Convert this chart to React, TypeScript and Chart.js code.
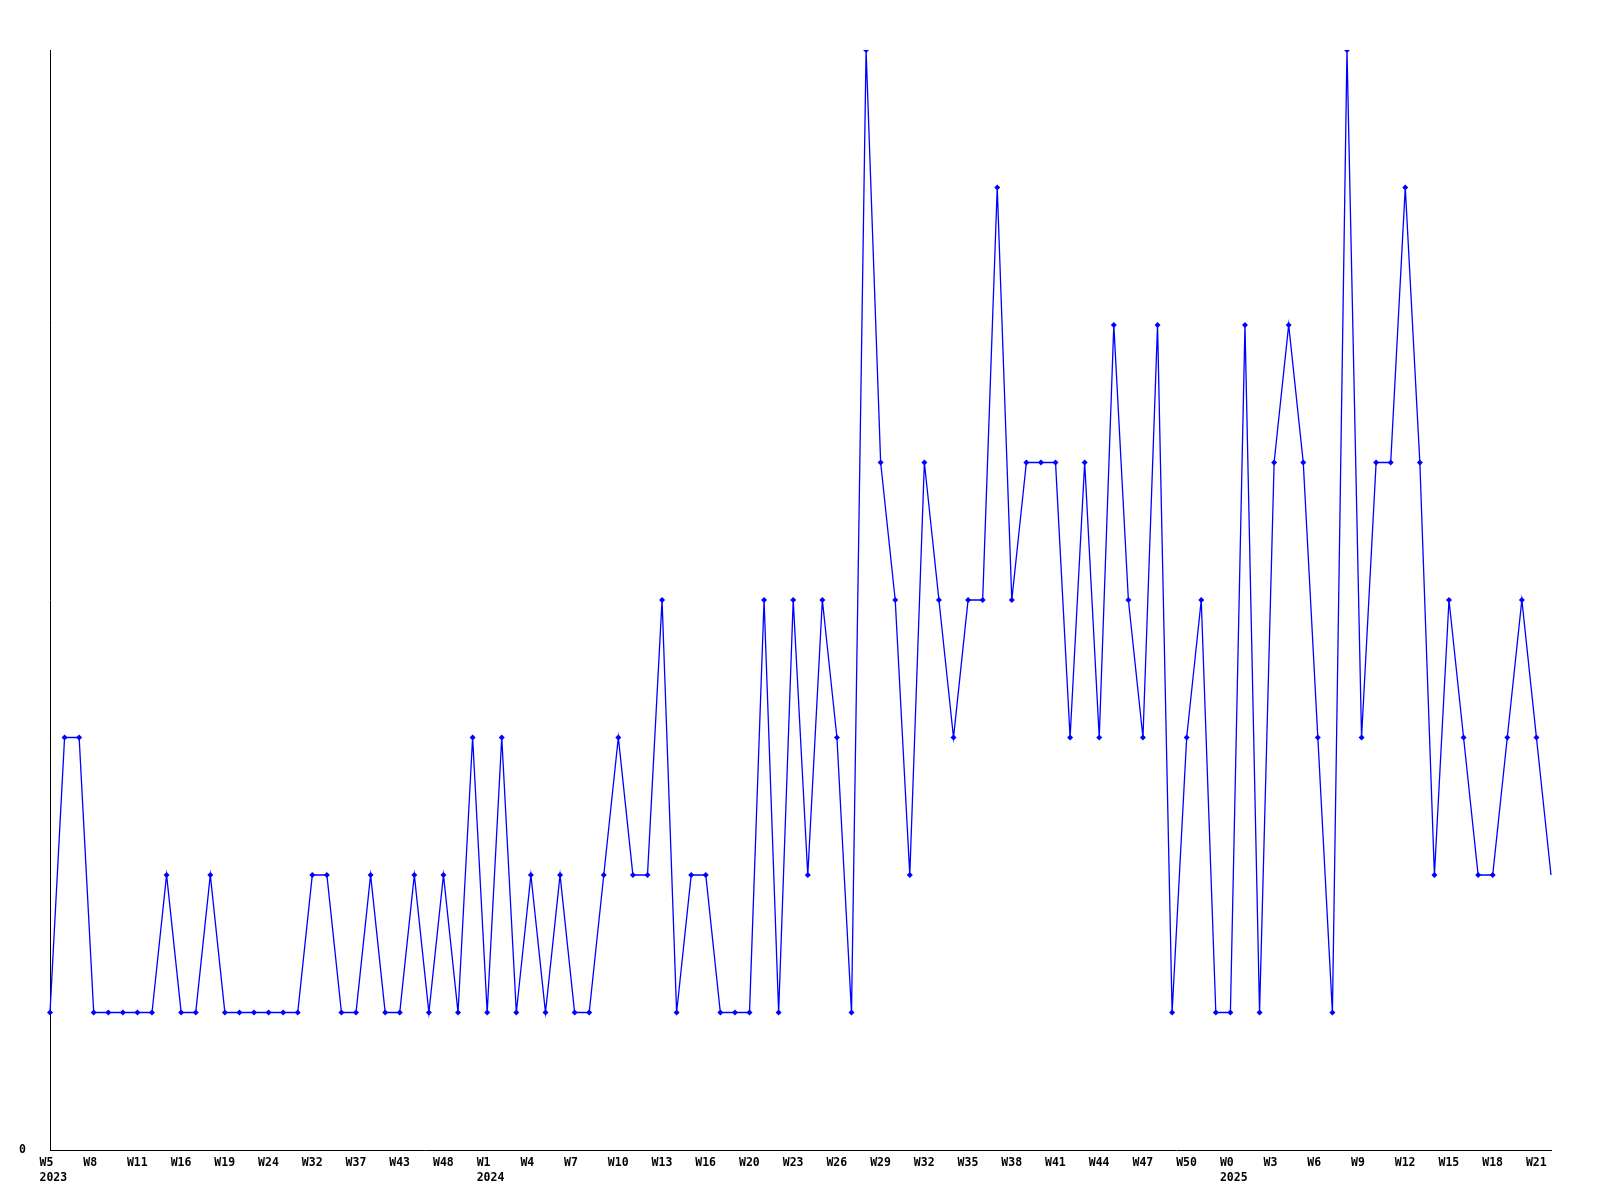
import { useEffect, useRef } from 'react';
import { Chart, registerables } from 'chart.js';

Chart.register(...registerables);

// Weekly counts (one value per reported week, in order)
const counts: number[] = [
  1, 3, 3, 1, 1, 1, 1, 1, 2, 1,
  1, 2, 1, 1, 1, 1, 1, 1, 2, 2,
  1, 1, 2, 1, 1, 2, 1, 2, 1, 3,
  1, 3, 1, 2, 1, 2, 1, 1, 2, 3,
  2, 2, 4, 1, 2, 2, 1, 1, 1, 4,
  1, 4, 2, 4, 3, 1, 8, 5, 4, 2,
  5, 4, 3, 4, 4, 7, 4, 5, 5, 5,
  3, 5, 3, 6, 4, 3, 6, 1, 3, 4,
  1, 1, 6, 1, 5, 6, 5, 3, 1, 8,
  3, 5, 5, 7, 5, 2, 4, 3, 2, 2,
  3, 4, 3, 2,
];

// Tick labels shown on every third week
const weekTicks: string[] = [
  'W5', 'W8', 'W11', 'W16', 'W19', 'W24', 'W32', 'W37', 'W43', 'W48',
  'W1', 'W4', 'W7', 'W10', 'W13', 'W16', 'W20', 'W23', 'W26', 'W29',
  'W32', 'W35', 'W38', 'W41', 'W44', 'W47', 'W50',
  'W0', 'W3', 'W6', 'W9', 'W12', 'W15', 'W18', 'W21',
];
const tickEvery = 3;

// Year labels and the week tick each one sits under
const years: string[] = ['2023', '2024', '2025'];
const yearTickIndex: number[] = [0, 10, 27];

const yMin = 0;
const yMax = 8;

const FONT = { family: "'DejaVu Sans Mono', monospace", size: 11.5, weight: 'bold' as const, lineHeight: 1.35 };

export default function App() {
  const ref = useRef<HTMLCanvasElement | null>(null);

  useEffect(() => {
    if (!ref.current) return;
    const last = counts.length - 1;
    const chart = new Chart(ref.current, {
      type: 'line',
      data: {
        labels: counts.map((_, i) => String(i)),
        datasets: [
          {
            data: counts,
            borderColor: '#0000ff',
            backgroundColor: '#0000ff',
            borderWidth: 1.3,
            tension: 0,
            fill: false,
            pointStyle: 'rectRot',
            pointRadius: (ctx: any) => (ctx.dataIndex === last ? 0 : 3),
            pointBorderWidth: 0,
            pointBackgroundColor: '#0000ff',
          },
        ],
      },
      options: {
        responsive: false,
        animation: false,
        events: [],
        layout: { padding: { top: 50, right: 49, bottom: 0, left: 0 } },
        plugins: {
          legend: { display: false },
          title: { display: false },
          tooltip: { enabled: false },
        },
        scales: {
          x: {
            type: 'category',
            offset: false,
            grid: { display: false },
            border: { display: true, color: '#000', width: 1 },
            afterFit: (scale: any) => {
              scale.height = 50;
            },
            ticks: {
              autoSkip: false,
              maxRotation: 0,
              minRotation: 0,
              align: 'start',
              labelOffset: -10.5,
              padding: -3,
              color: '#000',
              font: FONT,
              callback: (_v: any, index: number) => {
                if (index % tickEvery !== 0) return null;
                const k = index / tickEvery;
                const w = weekTicks[k];
                if (!w) return null;
                const yi = yearTickIndex.indexOf(k);
                return yi >= 0 ? [w, years[yi]] : w;
              },
            },
          },
          y: {
            min: yMin,
            max: yMax,
            grid: { display: false },
            border: { display: true, color: '#000', width: 1 },
            afterFit: (scale: any) => {
              scale.width = 50;
            },
            ticks: {
              stepSize: 1,
              padding: 16,
              color: '#000',
              font: FONT,
              callback: (v: any) => (Number(v) === 0 ? '0' : null),
            },
          },
        },
      },
    } as any);
    return () => chart.destroy();
  }, []);

  return (
    <div style={{ position: 'absolute', left: 0, top: 0, width: 1600, height: 1200, background: '#fff' }}>
      <canvas ref={ref} width={1600} height={1200} style={{ display: 'block', width: 1600, height: 1200 }} />
    </div>
  );
}
